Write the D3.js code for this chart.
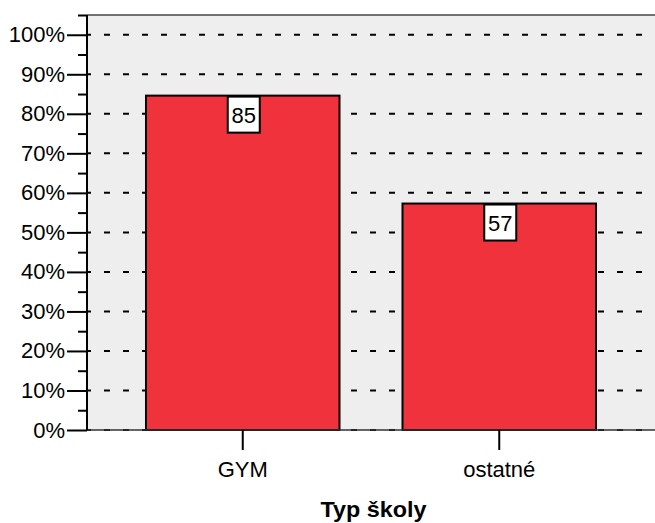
<!DOCTYPE html>
<html><head><meta charset="utf-8">
<script src="https://cdn.jsdelivr.net/npm/d3@7"></script>
<style>body{margin:0;background:#fff}svg{display:block}text{font-family:"Liberation Sans",Arial,sans-serif}</style>
</head><body><svg id="c" width="655" height="523"></svg>
<script>
const categories = ["GYM", "ostatné"];
const values = [84.6, 57.3];
const valueLabels = ["85", "57"];
const majorTicks = [0,10,20,30,40,50,60,70,80,90,100];
const minorTicks = [5,15,25,35,45,55,65,75,85,95,105];
const xTitle = "Typ školy";

const svg = d3.select("#c");
const L = 87, R = 655, T = 15, B = 430;
const FS = 22;
const y = d3.scaleLinear().domain([0,105]).range([B, T]);
const x = d3.scaleBand().domain(categories).range([L, R]).paddingInner(0.2456).paddingOuter(0.23);

svg.append("rect").attr("x",L).attr("y",T).attr("width",R-L).attr("height",B-T).attr("fill","#eeeeee");

// gridlines
svg.append("g").selectAll("line").data(majorTicks).join("line")
  .attr("x1",L).attr("x2",R).attr("y1",d=>y(d)).attr("y2",d=>y(d))
  .attr("stroke","#000").attr("stroke-width",2).attr("stroke-dasharray","6,13").attr("stroke-dashoffset",2);

// bars
svg.append("g").selectAll("rect").data(categories).join("rect")
  .attr("x",d=>x(d)).attr("width",x.bandwidth())
  .attr("y",(d,i)=>y(values[i])).attr("height",(d,i)=>B-y(values[i]))
  .attr("fill","#f0323c").attr("stroke","#000").attr("stroke-width",2);

// value labels
const lg = svg.append("g");
categories.forEach((c,i)=>{
  const cx = x(c)+x.bandwidth()/2+1, top = y(values[i])+1;
  lg.append("rect").attr("x",cx-16).attr("y",top).attr("width",32).attr("height",36)
    .attr("fill","#fff").attr("stroke","#000").attr("stroke-width",2);
  lg.append("text").attr("x",cx).attr("y",top+26.5).attr("text-anchor","middle")
    .attr("font-size",FS).attr("fill","#000").text(valueLabels[i]);
});

// top border
svg.append("line").attr("x1",L).attr("x2",R).attr("y1",T).attr("y2",T).attr("stroke","#444").attr("stroke-width",1.5);
// x axis line
svg.append("line").attr("x1",L).attr("x2",R).attr("y1",B).attr("y2",B).attr("stroke","#333").attr("stroke-width",1.5);

// y axis
const yAxis = d3.axisLeft(y).tickValues(majorTicks).tickFormat(d=>d+"%").tickSize(20).tickPadding(2);
const ga = svg.append("g").attr("transform",`translate(${L},0)`).call(yAxis);
ga.select(".domain").attr("stroke","#000").attr("stroke-width",2).attr("d",`M0,${T}V${B}`);
ga.selectAll(".tick line").attr("stroke","#000").attr("stroke-width",2);
ga.selectAll(".tick text").attr("font-size",FS).attr("fill","#000").attr("font-family","Liberation Sans, Arial, sans-serif");
const yMinor = d3.axisLeft(y).tickValues(minorTicks).tickFormat("").tickSize(9);
const gm = svg.append("g").attr("transform",`translate(${L},0)`).call(yMinor);
gm.select(".domain").remove();
gm.selectAll(".tick line").attr("stroke","#000").attr("stroke-width",2);

// x axis
const xAxis = d3.axisBottom(x).tickSize(20).tickPadding(11);
const gx = svg.append("g").attr("transform",`translate(0,${B})`).call(xAxis);
gx.select(".domain").remove();
gx.selectAll(".tick line").attr("stroke","#000").attr("stroke-width",2);
gx.selectAll(".tick text").attr("font-size",FS).attr("fill","#000").attr("font-family","Liberation Sans, Arial, sans-serif");

svg.append("text").attr("x",(L+R)/2 + 2.5).attr("y",516.5).attr("text-anchor","middle")
  .attr("font-size",21.5).attr("font-weight","bold").attr("fill","#000")
  .attr("textLength",106).attr("lengthAdjust","spacingAndGlyphs").text(xTitle);
</script></body></html>
